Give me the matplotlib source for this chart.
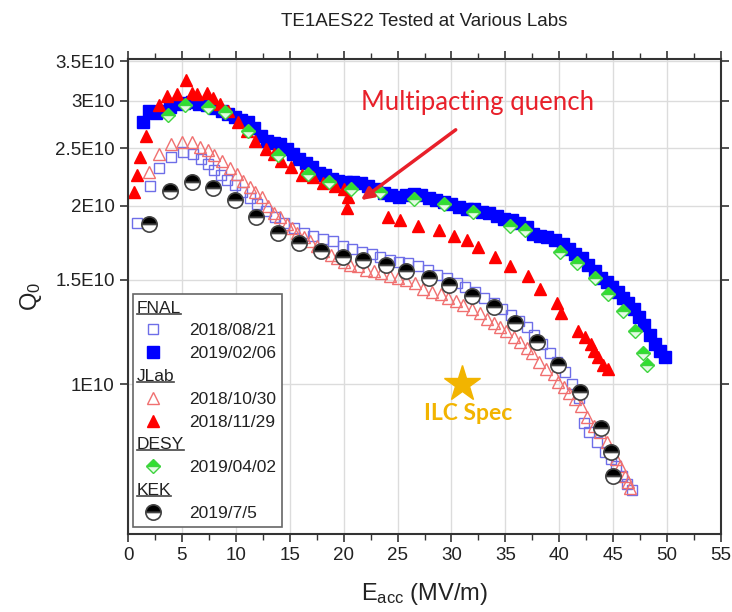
import matplotlib
matplotlib.use("Agg")
import matplotlib.pyplot as plt
from matplotlib.lines import Line2D
from matplotlib.ticker import FixedLocator, MultipleLocator, NullLocator
from matplotlib.transforms import IdentityTransform

plt.rcParams["font.family"] = ["Liberation Sans", "DejaVu Sans"]
plt.rcParams["mathtext.fontset"] = "custom"
plt.rcParams["mathtext.rm"] = "Liberation Sans"
plt.rcParams["mathtext.it"] = "Liberation Sans"

# FNAL 2018/08/21 (open squares)
fnal1_x = [0.8, 2.0, 2.9, 4.0, 5.1, 6.0, 6.8, 7.4, 8.0, 8.6, 9.2, 9.9, 10.6, 11.3, 12.0,
           12.8, 13.6, 14.5, 15.4, 16.3, 17.2, 18.1, 19.0, 19.9, 20.8, 21.7, 22.6, 23.4,
           24.3, 25.1, 26.0, 26.9, 27.8, 28.7, 29.6, 30.5, 31.3, 32.2, 33.0, 33.9, 34.7,
           35.5, 36.3, 37.0, 37.7, 38.4, 39.1, 39.8, 40.5, 41.2, 41.8, 42.3, 42.8, 43.5,
           44.2, 44.8, 45.3, 45.8, 46.3, 46.7]
fnal1_q = [1.87, 2.16, 2.31, 2.41, 2.46, 2.44, 2.40, 2.35, 2.30, 2.25, 2.21, 2.17, 2.11,
           2.06, 2.01, 1.96, 1.91, 1.87, 1.83, 1.80, 1.78, 1.76, 1.74, 1.71, 1.69, 1.67,
           1.66, 1.64, 1.62, 1.61, 1.60, 1.58, 1.56, 1.53, 1.51, 1.48, 1.46, 1.43, 1.40,
           1.37, 1.34, 1.31, 1.28, 1.25, 1.21, 1.17, 1.13, 1.09, 1.05, 1.00, 0.95, 0.86,
           0.83, 0.80, 0.77, 0.75, 0.73, 0.70, 0.68, 0.665]

# FNAL 2019/02/06 (filled squares)
fnal2_x = [1.4, 1.9, 2.6, 3.3, 3.9, 4.5, 5.2, 5.9, 6.6, 7.3, 8.0, 8.7, 9.3, 9.9, 10.5,
           11.1, 11.7, 12.3, 12.9, 13.5, 14.1, 14.7, 15.3, 15.9, 16.5, 17.1, 17.7, 18.3,
           18.9, 19.5, 20.2, 20.9, 21.6, 22.3, 23.0, 23.7, 24.4, 25.1, 25.8, 26.5, 27.2,
           27.9, 28.6, 29.3, 30.0, 30.7, 31.4, 32.1, 32.8, 33.5, 34.2, 34.9, 35.6, 36.3,
           37.0, 37.6, 38.2, 38.9, 39.6, 40.3, 40.9, 41.5, 42.1, 42.7, 43.3, 43.9, 44.4,
           44.9, 45.4, 45.9, 46.4, 46.9, 47.4, 47.9, 48.4, 48.9, 49.3, 49.8]
fnal2_q = [2.76, 2.88, 2.86, 2.88, 2.93, 2.96, 2.98, 2.99, 2.97, 2.95, 2.92, 2.89, 2.85,
           2.82, 2.79, 2.76, 2.70, 2.62, 2.57, 2.55, 2.54, 2.49, 2.44, 2.40, 2.36, 2.32,
           2.27, 2.25, 2.22, 2.20, 2.19, 2.19, 2.18, 2.16, 2.13, 2.10, 2.08, 2.07, 2.08,
           2.09, 2.08, 2.06, 2.04, 2.03, 2.01, 1.99, 1.97, 1.97, 1.95, 1.94, 1.92, 1.90,
           1.89, 1.87, 1.84, 1.79, 1.78, 1.77, 1.75, 1.72, 1.69, 1.66, 1.63, 1.59, 1.55,
           1.51, 1.49, 1.46, 1.43, 1.40, 1.37, 1.34, 1.30, 1.26, 1.21, 1.17, 1.14, 1.11]

# JLab 2018/10/30 (open triangles)
jlab1_x = [1.9, 2.9, 4.0, 5.0, 5.9, 6.7, 7.4, 8.0, 8.7, 9.5, 10.1, 10.7, 11.3, 11.8, 12.4,
           13.0, 13.5, 14.1, 14.7, 15.2, 15.7, 16.3, 16.9, 17.5, 18.1, 18.8, 19.4, 20.0,
           20.6, 21.3, 22.1, 22.8, 23.5, 24.3, 25.0, 25.8, 26.6, 27.4, 28.2, 29.0, 29.7,
           30.4, 31.1, 31.9, 32.6, 33.3, 33.9, 34.5, 35.1, 35.8, 36.4, 37.0, 37.5, 38.1,
           38.8, 39.5, 39.9, 40.4, 40.9, 41.5, 42.0, 42.6, 43.2, 43.8, 44.4, 44.9, 45.3,
           45.6, 46.1, 46.4, 46.6]
jlab1_q = [2.28, 2.44, 2.54, 2.56, 2.56, 2.51, 2.48, 2.43, 2.38, 2.31, 2.26, 2.20, 2.15,
           2.11, 2.07, 2.00, 1.94, 1.91, 1.86, 1.83, 1.80, 1.77, 1.74, 1.71, 1.68, 1.65,
           1.63, 1.61, 1.59, 1.58, 1.56, 1.55, 1.54, 1.52, 1.51, 1.50, 1.48, 1.45, 1.43,
           1.42, 1.40, 1.38, 1.36, 1.34, 1.32, 1.29, 1.27, 1.25, 1.23, 1.20, 1.18, 1.15,
           1.13, 1.09, 1.06, 1.04, 1.01, 0.99, 0.966, 0.945, 0.92, 0.88, 0.85, 0.83, 0.80,
           0.775, 0.75, 0.73, 0.70, 0.685, 0.668]

# JLab 2018/11/29 (filled triangles)
jlab2_x = [0.6, 0.8, 1.1, 1.7, 2.9, 3.6, 4.5, 5.4, 5.9, 6.4, 7.3, 7.9, 8.5, 9.3, 10.2,
           11.0, 11.8, 12.8, 13.5, 14.2, 15.1, 16.1, 17.2, 18.1, 19.2, 20.0, 20.4, 20.3,
           24.1, 25.2, 26.9, 28.8, 30.2, 31.4, 32.5, 34.0, 35.4, 37.1, 38.2, 39.8, 40.2,
           41.7, 42.4, 42.9, 43.2, 43.6, 44.1, 44.5]
jlab2_q = [2.11, 2.25, 2.41, 2.62, 2.95, 3.06, 3.08, 3.25, 3.10, 3.08, 3.10, 3.04, 2.97,
           2.89, 2.76, 2.67, 2.57, 2.49, 2.44, 2.38, 2.32, 2.25, 2.23, 2.18, 2.16, 2.13,
           2.07, 1.98, 1.91, 1.89, 1.85, 1.82, 1.78, 1.75, 1.70, 1.64, 1.58, 1.52, 1.45,
           1.37, 1.32, 1.23, 1.20, 1.17, 1.14, 1.11, 1.08, 1.06]

# DESY 2019/04/02
desy_x = [3.7, 5.3, 7.4, 9.0, 11.1, 13.9, 16.7, 18.6, 20.7, 23.4, 26.5, 29.3, 32.0, 35.4,
          36.8, 40.1, 41.6, 43.3, 44.5, 45.9, 47.0, 47.8, 48.1]
desy_q = [2.84, 2.95, 2.93, 2.87, 2.67, 2.43, 2.26, 2.19, 2.13, 2.11, 2.05, 2.01, 1.95,
          1.85, 1.82, 1.67, 1.60, 1.51, 1.42, 1.33, 1.23, 1.13, 1.08]

# KEK 2019/7/5
kek_x = [1.9, 3.9, 5.9, 7.9, 9.9, 11.9, 13.9, 15.9, 17.9, 19.9, 21.8, 23.9, 25.8, 27.9,
         29.8, 31.9, 33.9, 35.9, 37.9, 39.9, 41.9, 43.9, 44.8, 45.0]
kek_q = [1.865, 2.12, 2.19, 2.14, 2.04, 1.91, 1.80, 1.73, 1.68, 1.64, 1.62, 1.59, 1.55,
         1.51, 1.47, 1.41, 1.35, 1.27, 1.18, 1.08, 0.97, 0.845, 0.77, 0.70]

ilc_spec = (31.0, 1.0)          # E_acc, Q0 [1E10]
quench_point = (21.4, 2.03)
quench_text = (21.6, 2.98)
arrow_tail = (30.6, 2.70)

ytick_vals = [1.0, 1.5, 2.0, 2.5, 3.0, 3.5]
ytick_labels = ["1E10", "1.5E10", "2E10", "2.5E10", "3E10", "3.5E10"]

E10 = 1e10
TXT = "#222222"

fig = plt.figure(figsize=(7.32, 6.12), dpi=100)
ax = fig.add_axes([0.1749, 0.1275, 0.8101, 0.7761])

series = [
    (fnal1_x, fnal1_q, dict(marker="s", ms=7, mfc="none", mec="#6e6ee8", mew=1.0), "2018/08/21"),
    (fnal2_x, fnal2_q, dict(marker="s", ms=8, mfc="#0000ff", mec="#0000ff", mew=1.0), "2019/02/06"),
    (jlab1_x, jlab1_q, dict(marker="^", ms=9, mfc="none", mec="#f07070", mew=1.0), "2018/10/30"),
    (jlab2_x, jlab2_q, dict(marker="^", ms=9, mfc="#ff0000", mec="#ff0000", mew=1.0), "2018/11/29"),
    (desy_x, desy_q, dict(marker="D", ms=7.5, fillstyle="top", mfc="#2fe02f",
                          markerfacecoloralt="#e4fae4", mec="#3fd43f", mew=1.0), "2019/04/02"),
    (kek_x, kek_q, dict(marker="o", ms=11, fillstyle="top", mfc="#000000",
                        markerfacecoloralt="#ffffff", mec="#444444", mew=1.2), "2019/7/5"),
]

handles = {}
for xs, qs, style, label in series:
    h, = ax.plot(xs, [q * E10 for q in qs], linestyle="none", label=label, **style)
    handles[label] = h

ax.set_yscale("log")
ax.set_xlim(0, 55)
ax.set_ylim(5.6e9, 3.53e10)

ax.xaxis.set_major_locator(MultipleLocator(5))
ax.xaxis.set_minor_locator(MultipleLocator(2.5))
ax.yaxis.set_major_locator(FixedLocator([v * E10 for v in ytick_vals]))
ax.yaxis.set_minor_locator(NullLocator())
ax.set_yticklabels(ytick_labels)

ax.tick_params(axis="both", which="major", direction="out", length=6, width=1.2,
               labelsize=13.5, colors="#333333", labelcolor=TXT, top=True, right=True)
ax.tick_params(axis="x", which="minor", direction="out", length=4, width=1.0,
               colors="#333333", top=True, bottom=True)
for sp in ax.spines.values():
    sp.set_color("#333333")
    sp.set_linewidth(1.5)

ax.grid(True, which="major", color="#dcdcdc", lw=1.0)
ax.set_axisbelow(True)

ax.set_title("TE1AES22 Tested at Various Labs", fontsize=13.5, color=TXT, pad=24)
ax.set_xlabel(r"E$_{\mathrm{acc}}$ (MV/m)", fontsize=17, color=TXT, labelpad=12)
ax.set_ylabel(r"Q$_0$", fontsize=17, color=TXT, labelpad=8)

# ILC spec star
ax.plot([ilc_spec[0]], [ilc_spec[1] * E10], marker="*", ms=27, color="#f2b400",
        linestyle="none", zorder=5)
ax.text(ilc_spec[0] + 0.5, ilc_spec[1] * E10 * 0.895, "ILC Spec", color="#f2b400",
        fontsize=16.5, fontweight="bold", family=["Lato", "DejaVu Sans"],
        ha="center", va="center")

# multipacting annotation
ax.text(quench_text[0], quench_text[1] * E10, "Multipacting quench", color="#e8202a",
        fontsize=18.5, family=["Lato", "DejaVu Sans"], ha="left", va="center")
ax.annotate("", xy=(quench_point[0], quench_point[1] * E10),
            xytext=(arrow_tail[0], arrow_tail[1] * E10),
            arrowprops=dict(arrowstyle="-|>", color="#e8202a", lw=2.5, mutation_scale=18))

# legend with group headers
blank = Line2D([], [], linestyle="none")
groups = ["FNAL", "JLab", "DESY", "KEK"]
leg_handles = [blank, handles["2018/08/21"], handles["2019/02/06"],
               blank, handles["2018/10/30"], handles["2018/11/29"],
               blank, handles["2019/04/02"],
               blank, handles["2019/7/5"]]
leg_labels = ["FNAL", "2018/08/21", "2019/02/06",
              "JLab", "2018/10/30", "2018/11/29",
              "DESY", "2019/04/02",
              "KEK", "2019/7/5"]
leg = ax.legend(leg_handles, leg_labels, loc="lower left", bbox_to_anchor=(0.008, 0.015),
                borderaxespad=0, fancybox=False, edgecolor="#666666", framealpha=1,
                fontsize=12.5, labelspacing=0.44, handlelength=1.6, handletextpad=1.3,
                borderpad=0.35, labelcolor=TXT)
leg.get_frame().set_linewidth(1.2)

fig.canvas.draw()
renderer = fig.canvas.get_renderer()
frame = leg.get_frame().get_window_extent(renderer)
for t in leg.get_texts():
    if t.get_text() in groups:
        bb = t.get_window_extent(renderer)
        t.set_visible(False)
        nt = fig.text(frame.x0 + 4, bb.y0, t.get_text(), transform=IdentityTransform(),
                      fontsize=12.5, color=TXT, ha="left", va="bottom", zorder=10)
        nb = nt.get_window_extent(renderer)
        fig.add_artist(Line2D([nb.x0, nb.x1], [nb.y0 + 2, nb.y0 + 2],
                              transform=IdentityTransform(), color="#444444", lw=1.2,
                              zorder=10))

fig.savefig("out.png", dpi=100)
